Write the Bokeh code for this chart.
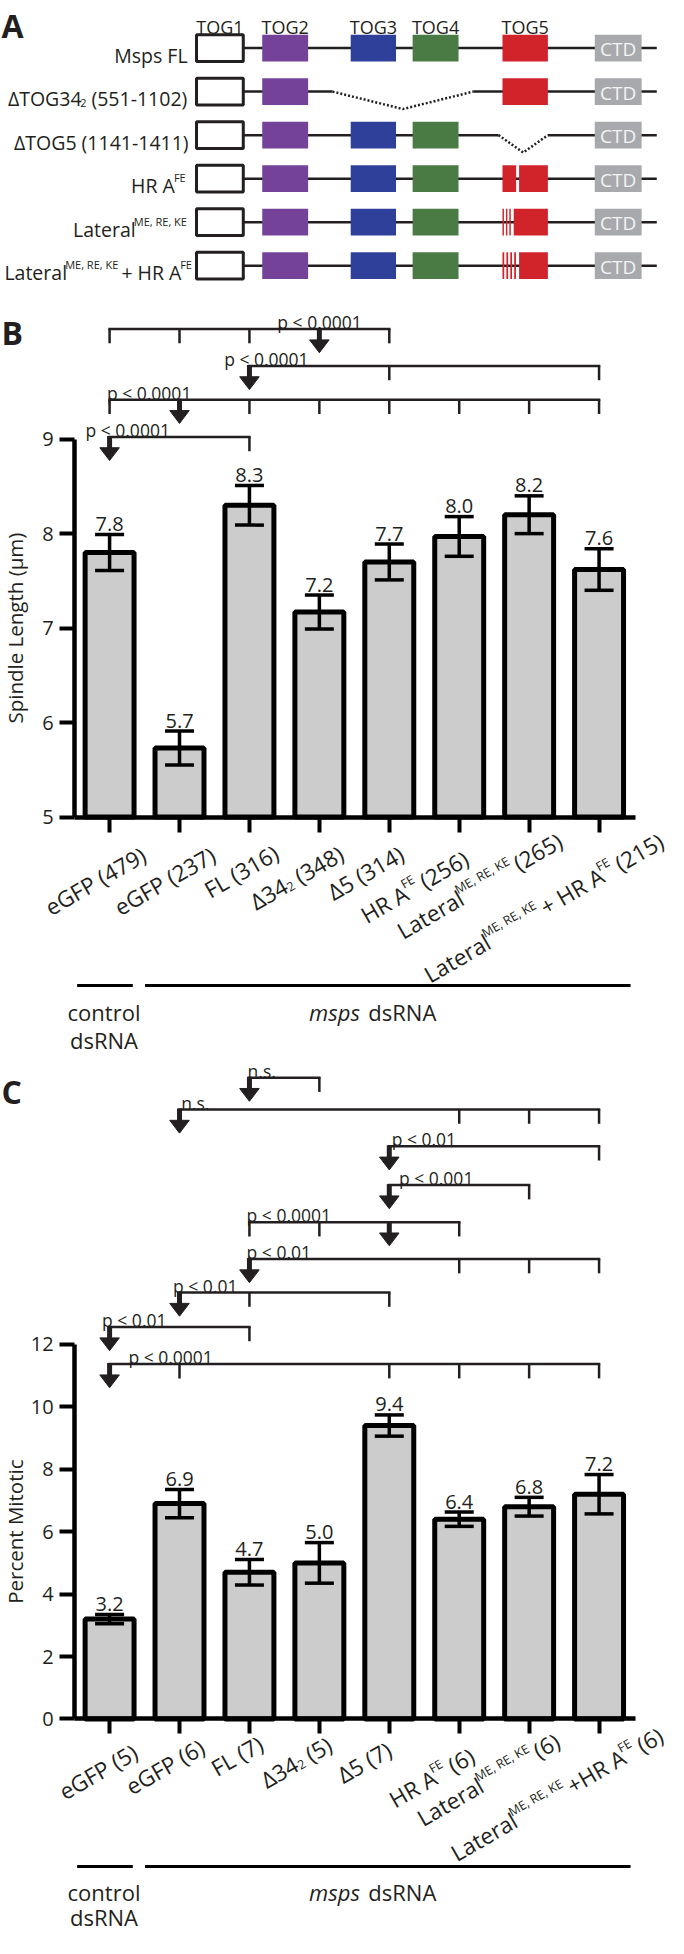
import math
from bokeh.plotting import figure
from bokeh.models import Range1d, LinearAxis, FixedTicker, ColumnDataSource, Whisker, TeeHead
from bokeh.core.properties import value
from bokeh.embed import file_html
from bokeh.resources import INLINE

# ======================= DATA =======================
# Panel A : domain schematic (schematic x positions of each domain)
DOMAINS = ["TOG1", "TOG2", "TOG3", "TOG4", "TOG5", "CTD"]
DOMAIN_START = [200.7, 268.0, 358.6, 422.0, 514.0, 608.5]
DOMAIN_END = [248.6, 315.0, 405.0, 469.0, 560.5, 656.5]
DOMAIN_COLORS = ["#ffffff", "#75429a", "#2e4099", "#4a7b44", "#d1232a", "#a7a9ac"]
BACKBONE_END = 672.0

CONSTRUCT_LABELS = [
    [("Msps FL", "n")],
    [("\u0394TOG34", "n"), ("2", "sub"), (" (551-1102)", "n")],
    [("\u0394TOG5 (1141-1411)", "n")],
    [("HR A", "n"), ("FE", "sup")],
    [("Lateral", "n"), ("ME, RE, KE", "sup")],
    [("Lateral", "n"), ("ME, RE, KE", "sup"), (" + HR A", "n"), ("FE", "sup")],
]
CONSTRUCT_DOMAINS = [
    [0, 1, 2, 3, 5],
    [0, 1, 5],
    [0, 1, 2, 3, 5],
    [0, 1, 2, 3, 5],
    [0, 1, 2, 3, 5],
    [0, 1, 2, 3, 5],
]
TOG5_PARTS = [
    [(514.0, 560.5)],
    [(514.0, 560.5)],
    [],
    [(514.0, 528.0), (531.0, 560.5)],
    [(514.0, 515.5), (517.5, 519.0), (521.0, 522.5), (525.5, 560.5)],
    [(514.0, 515.8), (518.0, 519.8), (522.0, 523.8), (526.0, 527.8), (531.0, 560.5)],
]
DELETED_SPAN = [None, (340.0, 484.0), (510.0, 560.5), None, None, None]

# Panel B : spindle length
B_LABELS = [
    [("eGFP (479)", "n")],
    [("eGFP (237)", "n")],
    [("FL (316)", "n")],
    [("\u039434", "n"), ("2", "sub"), (" (348)", "n")],
    [("\u03945 (314)", "n")],
    [("HR A", "n"), ("FE", "sup"), (" (256)", "n")],
    [("Lateral", "n"), ("ME, RE, KE", "sup"), (" (265)", "n")],
    [("Lateral", "n"), ("ME, RE, KE", "sup"), (" + HR A", "n"), ("FE", "sup"), (" (215)", "n")],
]
B_MEAN = [7.8, 5.73, 8.3, 7.17, 7.7, 7.97, 8.2, 7.62]
B_SEM = [0.19, 0.18, 0.21, 0.18, 0.19, 0.21, 0.20, 0.22]
B_TICKS = [5, 6, 7, 8, 9]
B_TESTS = [
    (4, [1, 2, 3, 5], "p < 0.0001"),
    (3, [5, 8], "p < 0.0001"),
    (2, [1, 3, 4, 5, 6, 7, 8], "p < 0.0001"),
    (1, [3], "p < 0.0001"),
]

# Panel C : percent mitotic
C_LABELS = [
    [("eGFP (5)", "n")],
    [("eGFP (6)", "n")],
    [("FL (7)", "n")],
    [("\u039434", "n"), ("2", "sub"), (" (5)", "n")],
    [("\u03945 (7)", "n")],
    [("HR A", "n"), ("FE", "sup"), (" (6)", "n")],
    [("Lateral", "n"), ("ME, RE, KE", "sup"), (" (6)", "n")],
    [("Lateral", "n"), ("ME, RE, KE", "sup"), (" +HR A", "n"), ("FE", "sup"), (" (6)", "n")],
]
C_MEAN = [3.2, 6.9, 4.7, 5.0, 9.4, 6.4, 6.8, 7.2]
C_SEM = [0.15, 0.45, 0.41, 0.65, 0.34, 0.23, 0.30, 0.63]
C_TICKS = [0, 2, 4, 6, 8, 10, 12]
C_TESTS = [
    (3, [4], "n.s."),
    (2, [6, 7, 8], "n.s."),
    (5, [8], "p < 0.01"),
    (5, [7], "p < 0.001"),
    (5, [3, 4, 6], "p < 0.0001"),
    (3, [6, 7, 8], "p < 0.01"),
    (2, [3, 5], "p < 0.01"),
    (1, [3], "p < 0.01"),
    (1, [2, 5, 6, 7, 8], "p < 0.0001"),
]
GROUP_BARS = [(1, 1), (2, 8)]

BAR_X = list(range(1, 9))

# ======================= LAYOUT (reference pixel space) =======================
W_PX, H_MAP = 684.0, 1966.0
FIG_W, FIG_H = 668, 1938
SX, SY = FIG_W / W_PX, FIG_H / H_MAP
BAR1_PX, BAR_STEP_PX = 111.7, 71.6
YAXIS_PX = 76.0
B_PX = (828.3, 5.0, 445.0, 9.0)
C_PX = (1743.3, 0.0, 1363.3, 12.0)
ROW0_PX, ROW_STEP_PX = 48.3, 44.14
BOX_HALF_PX = 13.5

B_LEVELS = [333.3, 370.7, 405.0, 442.7]
B_PLABEL_X = [283.5, 229.0, 109.0, 87.0]
C_LEVELS = [1092.7, 1125.0, 1162.3, 1201.7, 1239.3, 1276.7, 1310.7, 1345.7, 1383.3]
C_PLABEL_X = [253.0, 185.0, 400.5, 408.0, 252.0, 252.0, 176.7, 104.0, 131.0]

# end of each rotated label's baseline, relative to its tick on the axis (ref px)
B_LABEL_END = [(32.3, 37.7), (31.7, 37.7), (25.1, 35.7), (21.5, 35.7), (11.9, 35.7),
               (6.3, 40.7), (30.7, 22.7), (63.0, 23.0)]
C_LABEL_END = [(24.3, 32.7), (21.2, 27.7), (9.8, 24.4), (10.2, 24.4), (-0.3, 29.4),
               (13.1, 35.7), (28.7, 20.7), (63.0, 15.0)]

B_GROUP = dict(line=999.3, base1=1026.0, base2=1055.0)
C_GROUP = dict(line=1893.0, base1=1919.0, base2=1944.0)

FONT = "Open Sans"
INK = "#231f20"
TH = math.radians(30)
D = (math.cos(TH), -math.sin(TH))
U = (-math.sin(TH), -math.cos(TH))
XL_F, XL_FS = 22.5, 12.5
XL_SUP, XL_SUB = 8.0, 4.5

ADV = {' ': 532, '(': 606, ')': 606, '+': 1171, ',': 502, '-': 659, '.': 545, '<': 1171,
       'A': 1296, 'B': 1327, 'C': 1292, 'D': 1493, 'E': 1124, 'F': 1004, 'G': 1491, 'H': 1511,
       'K': 1219, 'L': 1028, 'M': 1849, 'N': 1544, 'O': 1595, 'P': 1233, 'R': 1274, 'S': 1096,
       'T': 1104, 'a': 1139, 'c': 975, 'd': 1255, 'e': 1149, 'g': 1122, 'h': 1257, 'i': 518,
       'l': 518, 'm': 1905, 'n': 1257, 'o': 1237, 'p': 1255, 'r': 836, 's': 977, 't': 723,
       '\u0394': 1264, '\u00b5': 1266}
for dgt in "0123456789":
    ADV[dgt] = 1171


def tw(s, size):
    return sum(ADV.get(ch, 1150) for ch in s) / 2048.0 * size


def lin_range(px_a, val_a, px_b, val_b, px_start, px_end):
    k = (val_b - val_a) / (px_b - px_a)
    return Range1d(start=val_a + (px_start - px_a) * k, end=val_a + (px_end - px_a) * k)


p = figure(width=FIG_W, height=FIG_H, x_range=Range1d(0, W_PX), y_range=Range1d(H_MAP, 0),
           x_axis_type=None, y_axis_type=None, toolbar_location=None, output_backend="svg",
           min_border=0, outline_line_color=None)
p.background_fill_color = "white"
p.border_fill_color = "white"

p.extra_x_ranges = {"bx": lin_range(BAR1_PX, 1, BAR1_PX + BAR_STEP_PX, 2, 0, W_PX)}
p.extra_y_ranges = {
    "By": lin_range(B_PX[0], B_PX[1], B_PX[2], B_PX[3], H_MAP, 0),
    "Cy": lin_range(C_PX[0], C_PX[1], C_PX[2], C_PX[3], H_MAP, 0),
    "rows": lin_range(ROW0_PX, 0, ROW0_PX + ROW_STEP_PX, 1, H_MAP, 0),
}
IDX_PER_PX = 1.0 / BAR_STEP_PX
ROW_PER_PX = 1.0 / ROW_STEP_PX


def bar_px(i):
    return BAR1_PX + (i - 1) * BAR_STEP_PX


def txt(x, y, text, size, align="left", baseline="alphabetic", color=INK, style="normal",
        angle=0.0, **kw):
    p.text(x=x, y=y, text=text, text_font=value(FONT), text_font_size=f"{size}px",
           text_align=align, text_baseline=baseline, text_color=color, text_font_style=style,
           angle=angle, **kw)


# ---------------- panel letters ----------------
for letter, base in (("A", 25.0), ("B", 337.0), ("C", 1107.0)):
    txt([1.0], [base], [letter], 32, style="bold")

# ---------------- panel A ----------------
nrows = len(CONSTRUCT_LABELS)
rows = list(range(nrows))
bb = dict(x0=[], x1=[], y=[])
dot_xs, dot_ys = [], []
for r in rows:
    span = DELETED_SPAN[r]
    start = DOMAIN_END[0]
    if span is None:
        bb["x0"].append(start); bb["x1"].append(BACKBONE_END); bb["y"].append(r)
    else:
        a, b = span
        bb["x0"] += [start, b]; bb["x1"] += [a, BACKBONE_END]; bb["y"] += [r, r]
        mid = (a + b) / 2.0
        dot_xs.append([a, mid, b]); dot_ys.append([r, r + 0.40, r])
p.segment(x0="x0", y0="y", x1="x1", y1="y", source=ColumnDataSource(bb), y_range_name="rows",
          line_color=INK, line_width=2.5)
p.multi_line(xs=dot_xs, ys=dot_ys, y_range_name="rows", line_color=INK, line_width=2.5,
             line_dash="2 2")

bh = BOX_HALF_PX * ROW_PER_PX
boxes = dict(l=[], r=[], t=[], b=[], c=[], lc=[])
for r in rows:
    for d in CONSTRUCT_DOMAINS[r]:
        boxes["l"].append(DOMAIN_START[d]); boxes["r"].append(DOMAIN_END[d])
        boxes["t"].append(r - bh); boxes["b"].append(r + bh)
        boxes["c"].append(DOMAIN_COLORS[d])
        boxes["lc"].append(INK if d == 0 else None)
    for (a, b) in TOG5_PARTS[r]:
        boxes["l"].append(a); boxes["r"].append(b)
        boxes["t"].append(r - bh); boxes["b"].append(r + bh)
        boxes["c"].append(DOMAIN_COLORS[4]); boxes["lc"].append(None)
p.quad(left="l", right="r", top="t", bottom="b", fill_color="c", line_color="lc", line_width=3,
       source=ColumnDataSource(boxes), y_range_name="rows")

for d in range(5):
    txt([(DOMAIN_START[d] + DOMAIN_END[d]) / 2.0], [27.0], [DOMAINS[d]], 18, align="center")
ctd_x = (DOMAIN_START[5] + DOMAIN_END[5]) / 2.0
txt([ctd_x] * nrows, rows, ["CTD"] * nrows, 19, align="center", baseline="middle",
    color="#f4f4f4", y_range_name="rows", y_offset=1)

RL_F, RL_FS, RL_RIGHT = 19.5, 11, 189.0
rl_main = dict(x=[], y=[], t=[], oy=[])
rl_small = dict(x=[], y=[], t=[], oy=[])
for r, pieces in enumerate(CONSTRUCT_LABELS):
    sizes = [RL_F if k == "n" else RL_FS for _, k in pieces]
    widths = [tw(t, s) for (t, _), s in zip(pieces, sizes)]
    c = max(RL_RIGHT - sum(widths), 4.0)
    for (t, k), s, w in zip(pieces, sizes, widths):
        lead = tw(t[: len(t) - len(t.lstrip())], s)
        oy = 7.0 + (-8.0 if k == "sup" else (5.0 if k == "sub" else 0.0))
        dst = rl_main if k == "n" else rl_small
        dst["x"].append(c + lead); dst["y"].append(r); dst["t"].append(t.lstrip())
        dst["oy"].append(oy * SY)
        c += w
for dsrc, size in ((rl_main, RL_F), (rl_small, RL_FS)):
    txt("x", "y", "t", size, source=ColumnDataSource(dsrc), y_range_name="rows", y_offset="oy")


# ---------------- bar panels ----------------
def bar_panel(yname, axis_px, mean, sem, base, ticks, ylabel, labels, label_end, tests, levels,
              plabel_x, group):
    lo, hi = ticks[0], ticks[-1]
    src = ColumnDataSource(dict(x=BAR_X, top=mean,
                                upper=[m + s for m, s in zip(mean, sem)],
                                lower=[m - s for m, s in zip(mean, sem)],
                                lab=[f"{m:.1f}" for m in mean]))
    p.vbar(x="x", top="top", bottom=base, width=0.70, source=src, x_range_name="bx",
           y_range_name=yname, fill_color="#cccccc", line_color="black", line_width=5)
    w = Whisker(source=src, base="x", upper="upper", lower="lower", dimension="height",
                x_range_name="bx", y_range_name=yname, line_width=3.5, line_color="black",
                upper_head=TeeHead(size=29, line_width=3.5, line_color="black"),
                lower_head=TeeHead(size=29, line_width=3.5, line_color="black"),
                level="annotation")
    p.add_layout(w)
    txt("x", "upper", "lab", 20, align="center", source=src, x_range_name="bx",
        y_range_name=yname, y_offset=-10.5)

    ya = LinearAxis(y_range_name=yname, fixed_location=YAXIS_PX, bounds=(lo, hi),
                    ticker=FixedTicker(ticks=ticks))
    xa = LinearAxis(x_range_name="bx", y_range_name=yname, fixed_location=base,
                    bounds=(0.5, 8.52), ticker=FixedTicker(ticks=BAR_X),
                    major_label_overrides={i: "" for i in BAR_X})
    for ax in (ya, xa):
        ax.axis_line_width = 4.5
        ax.axis_line_color = "black"
        ax.major_tick_line_width = 4
        ax.major_tick_line_color = "black"
        ax.major_tick_out = 15
        ax.major_tick_in = 0
        ax.minor_tick_line_color = None
        ax.major_label_text_font = FONT
        ax.major_label_text_color = INK
    ya.major_label_text_font_size = "20px"
    ya.major_label_standoff = 6
    xa.major_label_text_font_size = "0px"
    p.add_layout(ya, "left")
    p.add_layout(xa, "below")

    txt([15.0], [(lo + hi) / 2.0], [ylabel], 20.5, align="center", baseline="middle",
        angle=math.pi / 2, y_range_name=yname)

    # rotated category labels, pieces laid along the rotated baseline
    main = dict(x=[], y=[], t=[])
    small = dict(x=[], y=[], t=[])
    for i, (pieces, end) in enumerate(zip(labels, label_end)):
        ex, ey = bar_px(BAR_X[i]) + end[0], axis_px + end[1]
        sizes = [XL_F if k == "n" else XL_FS for _, k in pieces]
        widths = [tw(t, s) for (t, _), s in zip(pieces, sizes)]
        total = sum(widths)
        c = 0.0
        for (t, k), s, wd in zip(pieces, sizes, widths):
            lead = tw(t[: len(t) - len(t.lstrip())], s)
            shift = XL_SUP if k == "sup" else (-XL_SUB if k == "sub" else 0.0)
            along = c + lead - total
            dst = main if k == "n" else small
            dst["x"].append(ex + along * D[0] + shift * U[0])
            dst["y"].append(ey + along * D[1] + shift * U[1])
            dst["t"].append(t.lstrip())
            c += wd
    for dsrc, size in ((main, XL_F), (small, XL_FS)):
        txt("x", "y", "t", size, source=ColumnDataSource(dsrc), angle=TH)

    # significance brackets
    TICK_LEN, ARROW_LEN, TRI_H, TRI_HALF = 14.5, 24.0, 13.0, 10.0 * IDX_PER_PX
    hor = dict(x0=[], x1=[], y=[])
    vt = dict(x=[], y0=[], y1=[])
    stem = dict(x=[], y0=[], y1=[])
    tri_x, tri_y = [], []
    for (arrow, others, lab), lev, lx in zip(tests, levels, plabel_x):
        allb = [arrow] + others
        hor["x0"].append(min(allb)); hor["x1"].append(max(allb)); hor["y"].append(lev)
        for o in others:
            vt["x"].append(o); vt["y0"].append(lev); vt["y1"].append(lev + TICK_LEN)
        tip = lev + ARROW_LEN
        stem["x"].append(arrow); stem["y0"].append(lev - 1.0); stem["y1"].append(tip - TRI_H + 1)
        tri_x.append([arrow - TRI_HALF, arrow + TRI_HALF, arrow])
        tri_y.append([tip - TRI_H, tip - TRI_H, tip])
        txt([lx], [lev - 7.0], [lab], 17.5)
    p.segment(x0="x0", y0="y", x1="x1", y1="y", source=ColumnDataSource(hor), x_range_name="bx",
              line_color=INK, line_width=2.5, line_cap="square")
    p.segment(x0="x", y0="y0", x1="x", y1="y1", source=ColumnDataSource(vt), x_range_name="bx",
              line_color=INK, line_width=2.5)
    p.segment(x0="x", y0="y0", x1="x", y1="y1", source=ColumnDataSource(stem), x_range_name="bx",
              line_color=INK, line_width=5)
    p.patches(xs=tri_x, ys=tri_y, x_range_name="bx", fill_color=INK, line_color=INK,
              line_width=1)

    # treatment groups
    (c0, c1), (m0, m1) = GROUP_BARS
    gl = dict(x0=[c0 - 0.464, m0 - 0.493], x1=[c1 + 0.332, m1 + 0.45],
              y=[group["line"], group["line"]])
    p.segment(x0="x0", y0="y", x1="x1", y1="y", source=ColumnDataSource(gl), x_range_name="bx",
              line_color="black", line_width=3)
    cx = c0 - 0.08
    txt([cx], [group["base1"]], ["control"], 22, align="center", x_range_name="bx")
    txt([cx], [group["base2"]], ["dsRNA"], 22, align="center", x_range_name="bx")
    mx = m0 + 1.853
    txt([mx], [group["base1"]], ["msps"], 22, style="italic", x_range_name="bx")
    txt([mx], [group["base1"]], ["dsRNA"], 22, x_range_name="bx",
        x_offset=(tw("msps ", 22)) * SX)


bar_panel("By", B_PX[0], B_MEAN, B_SEM, 5, B_TICKS, "Spindle Length (\u00b5m)", B_LABELS,
          B_LABEL_END, B_TESTS, B_LEVELS, B_PLABEL_X, B_GROUP)
bar_panel("Cy", C_PX[0], C_MEAN, C_SEM, 0, C_TICKS, "Percent Mitotic", C_LABELS, C_LABEL_END,
          C_TESTS, C_LEVELS, C_PLABEL_X, C_GROUP)

open("out.html", "w").write(file_html(p, INLINE))
